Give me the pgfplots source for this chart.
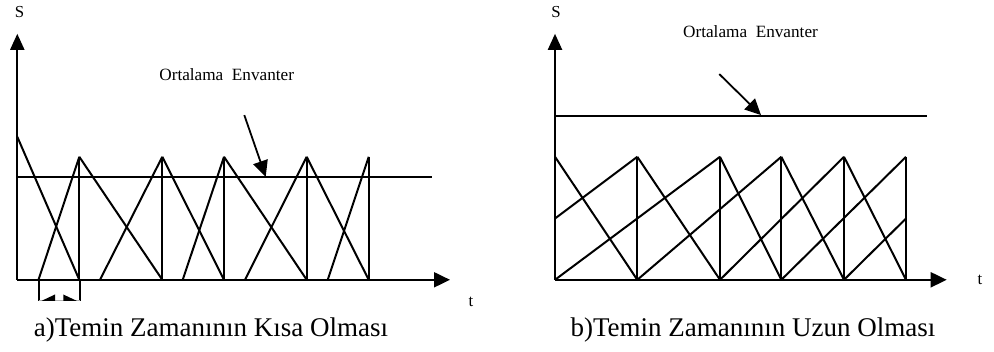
\documentclass[border=0pt]{standalone}
\usepackage{pgfplots}
\pgfplotsset{compat=1.18}
\usepackage{fontspec}
\setmainfont{Liberation Serif}
\usetikzlibrary{arrows.meta}
\begin{document}
\begin{tikzpicture}
\begin{axis}[
  scale only axis, width=497pt, height=175pt,
  xmin=0, xmax=994, ymin=0, ymax=350, y dir=reverse,
  hide axis, clip=false,
  cycle list={{black, solid, line width=1pt, no markers}},
  every axis plot/.append style={black, solid, line width=1pt, no markers, line join=miter},
]
\path (axis cs:0,0) rectangle (axis cs:994,350);
% ---------------- panel a ----------------
% axes
\addplot[-{Triangle[length=8pt,width=7pt]}] coordinates {(17.3,278) (17.3,32)};
\addplot[-{Triangle[length=8pt,width=7.5pt]}] coordinates {(17.3,278) (450,278)};
% average inventory
\addplot coordinates {(17.3,175.7) (431.7,175.7)};
% initial decline
\addplot coordinates {(17.3,135) (79.3,278)};
% rising (replenishment) lines
\addplot coordinates {(38.5,278) (79.3,155)};
\addplot coordinates {(100,278) (162.3,155)};
\addplot coordinates {(182.7,278) (224,155)};
\addplot coordinates {(245,278) (306.7,155)};
\addplot coordinates {(327.7,278) (368.7,155)};
% falling lines
\addplot coordinates {(79.3,155) (162.3,278)};
\addplot coordinates {(162.3,155) (224,278)};
\addplot coordinates {(224,155) (306.7,278)};
\addplot coordinates {(306.7,155) (368.7,278)};
% verticals
\addplot coordinates {(79.3,155) (79.3,278)};
\addplot coordinates {(162.3,155) (162.3,278)};
\addplot coordinates {(224,155) (224,278)};
\addplot coordinates {(306.7,155) (306.7,278)};
\addplot coordinates {(368.7,155) (368.7,278)};
% lead-time bracket
\addplot coordinates {(38.5,278) (38.5,299)};
\addplot coordinates {(79.8,278) (79.8,299)};
\addplot[gray!60, line width=0.6pt] coordinates {(38.5,299) (79.8,299)};
\addplot[fill=black, draw=none] coordinates {(41.7,299) (55,292.7) (55,299)} --cycle;
\addplot[fill=black, draw=none] coordinates {(76.7,299) (63.3,292.7) (63.3,299)} --cycle;
% annotation arrow
\addplot[line width=0.9pt, -{Triangle[length=8pt,width=7.5pt]}] coordinates {(244.3,113.3) (265.7,175)};
\node[anchor=base, font=\fontsize{8.6}{10}\selectfont] at (axis cs:226.7,79) {Ortalama\ \ Envanter};
\node[anchor=base, font=\fontsize{8.4}{10}\selectfont] at (axis cs:19.5,16) {S};
\node[anchor=base, font=\fontsize{8.4}{10}\selectfont] at (axis cs:471,305) {t};
\node[anchor=base, font=\fontsize{13.5}{16}\selectfont] at (axis cs:211,335) {a)Temin Zamanının Kısa Olması};
% ---------------- panel b ----------------
\addplot[-{Triangle[length=8pt,width=7pt]}] coordinates {(555,278) (555,32)};
\addplot[-{Triangle[length=8pt,width=7.5pt]}] coordinates {(555,278) (946.7,278)};
\addplot coordinates {(555,114) (926.7,114)};
% falling lines
\addplot coordinates {(555,155) (637.3,278)};
\addplot coordinates {(637.3,155) (720,278)};
\addplot coordinates {(720,155) (781.3,278)};
\addplot coordinates {(781.3,155) (844,278)};
\addplot coordinates {(844,155) (906,278)};
% verticals
\addplot coordinates {(637.3,155) (637.3,278)};
\addplot coordinates {(720,155) (720,278)};
\addplot coordinates {(781.3,155) (781.3,278)};
\addplot coordinates {(844,155) (844,278)};
\addplot coordinates {(906,155) (906,278)};
% rising lines (long lead time)
\addplot coordinates {(555,216.7) (637.3,155)};
\addplot coordinates {(555,278) (720,155)};
\addplot coordinates {(637.3,278) (781.3,155)};
\addplot coordinates {(720,278) (844,155)};
\addplot coordinates {(781.3,278) (906,155)};
\addplot coordinates {(844,278) (906,216.7)};
% annotation arrow
\addplot[line width=0.9pt, -{Triangle[length=8pt,width=7.5pt]}] coordinates {(719.3,72.3) (761,113.3)};
\node[anchor=base, font=\fontsize{8.6}{10}\selectfont] at (axis cs:750.5,36) {Ortalama\ \ Envanter};
\node[anchor=base, font=\fontsize{8.4}{10}\selectfont] at (axis cs:556,16) {S};
\node[anchor=base, font=\fontsize{8.4}{10}\selectfont] at (axis cs:980,283) {t};
\node[anchor=base, font=\fontsize{13.5}{16}\selectfont] at (axis cs:753,335) {b)Temin Zamanının Uzun Olması};
\end{axis}
\end{tikzpicture}
\end{document}
